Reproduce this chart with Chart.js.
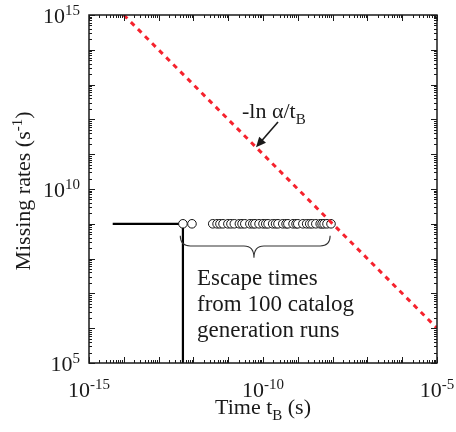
<!DOCTYPE html>
<html>
<head>
<meta charset="utf-8">
<script src="https://cdn.jsdelivr.net/npm/chart.js@4.4.0/dist/chart.umd.min.js"></script>
<style>
  html, body { margin: 0; padding: 0; background: #fff; }
  #wrap { width: 456px; height: 432px; }
  #probe { font-family: "Liberation Serif"; position: absolute; left: -999px; top: 0; }
</style>
</head>
<body>
<div id="probe">Escape 10 &alpha;</div>
<div id="wrap"><canvas id="chart"></canvas></div>
<script>
// --- DATA ---
const boundLineX = [1e-14, 1e-5];          // -ln(alpha)/t_B
const boundLineY = [1e15, 1e6];
const stepX = [4.8e-15, 5.0e-13, 5.0e-13];  // black step
const stepY = [1e9, 1e9, 1e5];
const escapeRate = 1e9;
const escapeTimes = [
  5.0e-13, 9.1e-13,
  3.6e-12, 4.8e-12, 5.8e-12, 7.1e-12, 9.8e-12, 1.2e-11, 1.5e-11, 2.1e-11,
  2.5e-11, 3.0e-11, 4.2e-11, 5.1e-11, 5.9e-11, 7.7e-11, 1.0e-10, 1.2e-10,
  1.4e-10, 1.9e-10, 2.3e-10, 2.7e-10, 3.7e-10, 4.6e-10, 5.2e-10, 7.3e-10,
  8.9e-10, 1.0e-9, 1.4e-9, 1.8e-9, 2.2e-9, 2.6e-9, 3.3e-9, 4.4e-9, 5.0e-9,
  5.7e-9, 6.9e-9, 9.0e-9
];
const xDecades = [-15, -14, -13, -12, -11, -10, -9, -8, -7, -6, -5];
const yDecades = [5, 6, 7, 8, 9, 10, 11, 12, 13, 14, 15];
const xLabelExp = [-15, -10, -5];
const yLabelExp = [5, 10, 15];

const FONT = '"Liberation Serif", "Times New Roman", Times, "DejaVu Serif", serif';
const INK = '#1a1a1a';

function pts(xs, ys) { return xs.map((x, i) => ({ x: x, y: ys[i] })); }

// base-10 with superscript exponent; align: 'right' | 'center'
function powerLabel(ctx, exp, x, baseline, align) {
  ctx.font = '22px ' + FONT;
  const wb = ctx.measureText('10').width;
  ctx.font = '15px ' + FONT;
  const we = ctx.measureText(String(exp)).width;
  let left = align === 'right' ? x - wb - we : x - (wb + we) / 2;
  ctx.textAlign = 'left';
  ctx.textBaseline = 'alphabetic';
  ctx.font = '22px ' + FONT;
  ctx.fillText('10', left, baseline);
  ctx.font = '15px ' + FONT;
  ctx.fillText(String(exp), left + wb, baseline - 8);
}

const decorPlugin = {
  id: 'decor',
  afterDraw(chart) {
    const ctx = chart.ctx;
    const xs = chart.scales.x, ys = chart.scales.y;
    const a = chart.chartArea;
    ctx.save();
    ctx.strokeStyle = INK;
    ctx.fillStyle = INK;

    // frame
    ctx.lineWidth = 1.5;
    ctx.strokeRect(a.left, a.top, a.right - a.left, a.bottom - a.top);

    // inner ticks all round
    ctx.lineWidth = 1;
    ctx.beginPath();
    xDecades.forEach((e, i) => {
      for (let k = 1; k <= 9; k++) {
        if (k > 1 && i === xDecades.length - 1) break;
        const px = Math.round(xs.getPixelForValue(k * Math.pow(10, e))) + 0.5;
        const len = k === 1 ? 6 : 3;
        ctx.moveTo(px, a.bottom); ctx.lineTo(px, a.bottom - len);
        ctx.moveTo(px, a.top); ctx.lineTo(px, a.top + len);
      }
    });
    yDecades.forEach((e, i) => {
      for (let k = 1; k <= 9; k++) {
        if (k > 1 && i === yDecades.length - 1) break;
        const py = Math.round(ys.getPixelForValue(k * Math.pow(10, e))) + 0.5;
        const len = k === 1 ? 6 : 3;
        ctx.moveTo(a.left, py); ctx.lineTo(a.left + len, py);
        ctx.moveTo(a.right, py); ctx.lineTo(a.right - len, py);
      }
    });
    ctx.stroke();

    // tick labels
    yLabelExp.forEach(e => {
      powerLabel(ctx, e, a.left - 9, ys.getPixelForValue(Math.pow(10, e)) + 7.5, 'right');
    });
    xLabelExp.forEach(e => {
      powerLabel(ctx, e, xs.getPixelForValue(Math.pow(10, e)), a.bottom + 34, 'center');
    });

    // x title: Time t_B (s)
    ctx.textBaseline = 'alphabetic';
    ctx.textAlign = 'left';
    const cx = (a.left + a.right) / 2;
    ctx.font = '22px ' + FONT;
    const p1 = 'Time t', p2 = ' (s)';
    const w1 = ctx.measureText(p1).width, w2 = ctx.measureText(p2).width;
    ctx.font = '15px ' + FONT;
    const wB = ctx.measureText('B').width;
    let left = cx - (w1 + wB + w2) / 2;
    const xb = 414;
    ctx.font = '22px ' + FONT;
    ctx.fillText(p1, left, xb);
    ctx.font = '15px ' + FONT;
    ctx.fillText('B', left + w1, xb + 6);
    ctx.font = '22px ' + FONT;
    ctx.fillText(p2, left + w1 + wB, xb);

    // y title: Missing rates (s^-1)
    ctx.save();
    ctx.translate(30, (a.top + a.bottom) / 2 + 2);
    ctx.rotate(-Math.PI / 2);
    ctx.font = '22px ' + FONT;
    const q1 = 'Missing rates (s', q3 = ')';
    const v1 = ctx.measureText(q1).width, v3 = ctx.measureText(q3).width;
    ctx.font = '15px ' + FONT;
    const v2 = ctx.measureText('-1').width;
    let l2 = -(v1 + v2 + v3) / 2;
    ctx.font = '22px ' + FONT;
    ctx.fillText(q1, l2, 0);
    ctx.font = '15px ' + FONT;
    ctx.fillText('-1', l2 + v1, -8);
    ctx.font = '22px ' + FONT;
    ctx.fillText(q3, l2 + v1 + v2, 0);
    ctx.restore();

    // annotation on bound line
    ctx.font = '22px ' + FONT;
    const an = '-ln \u03b1/t';
    const anX = 242, anY = 118;
    ctx.fillText(an, anX, anY);
    const aw = ctx.measureText(an).width;
    ctx.font = '15px ' + FONT;
    ctx.fillText('B', anX + aw, anY + 6);
    // arrow to the line
    const tipT = 6.3e-11;
    const tipX = xs.getPixelForValue(tipT), tipY = ys.getPixelForValue(10 / tipT);
    const sx = 278, sy = 122;
    const ang = Math.atan2(tipY - sy, tipX - sx);
    ctx.lineWidth = 1.6;
    ctx.beginPath();
    ctx.moveTo(sx, sy);
    ctx.lineTo(tipX - 6 * Math.cos(ang), tipY - 6 * Math.sin(ang));
    ctx.stroke();
    ctx.beginPath();
    ctx.moveTo(tipX, tipY);
    ctx.lineTo(tipX - 10 * Math.cos(ang) + 4.5 * Math.sin(ang), tipY - 10 * Math.sin(ang) - 4.5 * Math.cos(ang));
    ctx.lineTo(tipX - 10 * Math.cos(ang) - 4.5 * Math.sin(ang), tipY - 10 * Math.sin(ang) + 4.5 * Math.cos(ang));
    ctx.closePath();
    ctx.fill();

    // curly brace under the escape times
    const bl = xs.getPixelForValue(4.2e-13), bm = xs.getPixelForValue(5.5e-11), br = xs.getPixelForValue(8.5e-9);
    const bt = ys.getPixelForValue(4.5e8), bh = ys.getPixelForValue(2.3e8), bp = ys.getPixelForValue(1.05e8);
    ctx.strokeStyle = '#333';
    ctx.lineWidth = 1.1;
    ctx.beginPath();
    ctx.moveTo(bl, bt);
    ctx.quadraticCurveTo(bl, bh, bl + 10, bh);
    ctx.lineTo(bm - 10, bh);
    ctx.quadraticCurveTo(bm, bh, bm, bp);
    ctx.quadraticCurveTo(bm, bh, bm + 10, bh);
    ctx.lineTo(br - 10, bh);
    ctx.quadraticCurveTo(br, bh, br, bt);
    ctx.stroke();

    // brace caption
    ctx.fillStyle = INK;
    ctx.font = '23px ' + FONT;
    ctx.textAlign = 'left';
    ['Escape times', 'from 100 catalog', 'generation runs'].forEach((s, i) => {
      ctx.fillText(s, 197, 285 + i * 26);
    });
    ctx.restore();
  }
};

function build() {
  new Chart(document.getElementById('chart'), {
    type: 'scatter',
    data: {
      datasets: [
        {
          label: 'bound',
          type: 'line',
          data: pts(boundLineX, boundLineY),
          borderColor: '#f5222d',
          borderWidth: 3,
          borderDash: [5, 5],
          pointRadius: 0,
          fill: false
        },
        {
          label: 'escape',
          data: escapeTimes.map(t => ({ x: t, y: escapeRate })),
          pointRadius: 4.3,
          pointBackgroundColor: '#fff',
          pointBorderColor: '#111',
          pointBorderWidth: 1
        },
        {
          label: 'step',
          type: 'line',
          data: pts(stepX, stepY),
          borderColor: '#000',
          borderWidth: 2.2,
          pointRadius: 0,
          tension: 0,
          fill: false
        }
      ]
    },
    options: {
      responsive: true,
      maintainAspectRatio: false,
      animation: false,
      layout: { padding: { top: 15, right: 19, left: 0, bottom: 0 } },
      plugins: { legend: { display: false }, tooltip: { enabled: false } },
      scales: {
        x: {
          type: 'logarithmic', min: 1e-15, max: 1e-5,
          grid: { display: false }, border: { display: false },
          ticks: { display: false },
          afterFit: s => { s.height = 69; }
        },
        y: {
          type: 'logarithmic', min: 1e5, max: 1e15,
          grid: { display: false }, border: { display: false },
          ticks: { display: false },
          afterFit: s => { s.width = 89; }
        }
      }
    },
    plugins: [decorPlugin]
  });
}

if (document.fonts && document.fonts.load) {
  Promise.all([
    document.fonts.load('22px "Liberation Serif"'),
    document.fonts.load('15px "Liberation Serif"')
  ]).then(build, build);
} else {
  build();
}
</script>
</body>
</html>
